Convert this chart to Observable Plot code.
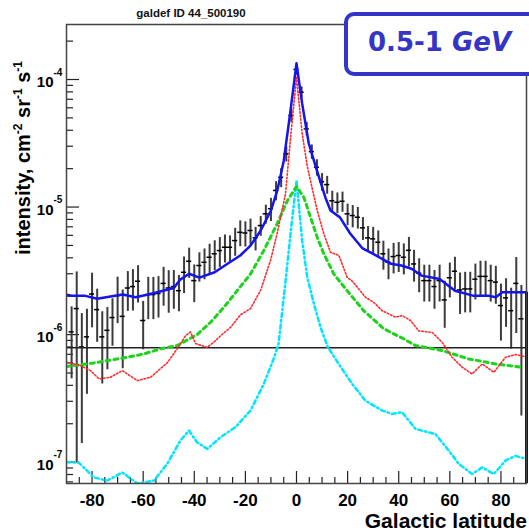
<!DOCTYPE html>
<html><head><meta charset="utf-8">
<script src="https://cdn.jsdelivr.net/npm/d3@7"></script>
<script src="https://cdn.jsdelivr.net/npm/@observablehq/plot@0.6"></script>
<style>
body{margin:0;background:#fff;}
#wrap{position:relative;width:529px;height:532px;overflow:hidden;background:#fff;}
#title{position:absolute;left:0;width:382px;top:7px;text-align:center;font:bold 11.5px "Liberation Sans",Arial,sans-serif;color:#111;}
#box{position:absolute;left:344px;top:12px;width:200px;height:64px;box-sizing:border-box;border:4.5px solid #3434c6;border-radius:10px;background:#fff;}
#boxtext{position:absolute;left:368px;top:29px;font:bold 26px "DejaVu Sans",sans-serif;color:#3434c6;line-height:26px;white-space:nowrap;}
</style></head>
<body><div id="wrap"><div id="title">galdef ID 44_500190</div></div>
<script>
// ---- data ----
const obsLat = [-88,-86,-84,-82,-80,-78,-76,-74,-72,-70,-68,-66,-64,-62,-60,-58,-56,-54,-52,-50,-48,-46,-44,-42,-40,-38,-36,-34,-32,-30,-28,-26,-24,-22,-20,-18,-16,-14,-12,-10,-8,-6,-4,-2,0,2,4,6,8,10,12,14,16,18,20,22,24,26,28,30,32,34,36,38,40,42,44,46,48,50,52,54,56,58,60,62,64,66,68,70,72,74,76,78,80,82,84,86,88];
const obsVal = [1.05e-6,1.6e-6,8.0e-7,9.6e-7,2.08e-6,1.57e-6,9.6e-7,1.08e-6,1.36e-6,2.02e-6,1.39e-6,2.32e-6,2.38e-6,2.62e-6,1.29e-6,2.06e-6,2.06e-6,2.1e-6,2.52e-6,2.32e-6,2.38e-6,2.21e-6,3.08e-6,3.76e-6,2.65e-6,3.48e-6,3.69e-6,4.04e-6,4.3e-6,4.56e-6,4.84e-6,4.84e-6,5.46e-6,6.34e-6,6.26e-6,6.55e-6,5.73e-6,7.16e-6,8.85e-6,9.7e-6,1.35e-5,1.71e-5,2.61e-5,5.22e-5,1.2e-4,7.95e-5,4.1e-5,2.72e-5,2.05e-5,1.58e-5,1.5e-5,1.12e-5,1.09e-5,1.11e-5,8.85e-6,8.58e-6,8.32e-6,6.87e-6,5.73e-6,5.63e-6,5.3e-6,4.3e-6,3.69e-6,4.09e-6,4.17e-6,4.04e-6,4.58e-6,3.58e-6,3.03e-6,2.65e-6,2.65e-6,2.38e-6,2.65e-6,1.87e-6,2.79e-6,3.14e-6,2.24e-6,2.28e-6,2.28e-6,2.72e-6,2.86e-6,2.86e-6,2.65e-6,2.58e-6,1.69e-6,1.94e-6,1.54e-6,2.52e-6,1.33e-6];
const obsErr = [6e-7,1.5e-6,6.6e-7,6.2e-7,9.5e-7,7e-7,5.5e-7,5.5e-7,5.5e-7,8e-7,8.5e-7,8e-7,8.5e-7,8.5e-7,5.3e-7,7.5e-7,7.5e-7,7.5e-7,8.5e-7,8.5e-7,8e-7,7e-7,9.8e-7,1.0e-6,8.7e-7,9e-7,1.0e-6,1.07e-6,1.14e-6,1.2e-6,1.2e-6,1.1e-6,1.35e-6,1.45e-6,1.4e-6,1.5e-6,1.2e-6,1.26e-6,1.5e-6,2.0e-6,2.3e-6,2.9e-6,3.5e-6,6e-6,1.2e-5,8e-6,5e-6,3.5e-6,3e-6,2.5e-6,2.4e-6,2.1e-6,2e-6,2e-6,1.7e-6,1.7e-6,1.6e-6,1.4e-6,1.3e-6,1.3e-6,1.2e-6,1.1e-6,1.0e-6,1.1e-6,1.1e-6,1.1e-6,1.2e-6,1.0e-6,9e-7,8.5e-7,8.5e-7,8e-7,8.5e-7,7.5e-7,8.5e-7,9e-7,8e-7,8e-7,8e-7,8.5e-7,9e-7,9e-7,8.5e-7,8.5e-7,8e-7,8e-7,7.7e-7,1.5e-6,1.1e-6];

const totalLat = [-90,-88,-83,-78,-71,-68,-63,-58,-53,-48,-45.5,-42,-38,-32,-27,-22,-18,-14,-10,-7.5,-5,-2.5,0,2.2,4.8,8,11.3,13.3,17,21,25.7,30,37,41,45,49,56,62,69,75,78,80.5,90];
const totalVal = [2.05e-6,2.02e-6,2.02e-6,1.91e-6,2.02e-6,2.06e-6,1.96e-6,2.06e-6,2.19e-6,2.32e-6,2.7e-6,3.0e-6,2.8e-6,3.08e-6,3.59e-6,4.17e-6,4.99e-6,6.55e-6,9.4e-6,1.35e-5,2.3e-5,5.4e-5,1.34e-4,6.5e-5,3.15e-5,1.93e-5,1.19e-5,9.4e-6,8.3e-6,6.2e-6,4.77e-6,4.29e-6,3.59e-6,3.48e-6,3.28e-6,2.9e-6,2.73e-6,2.21e-6,2.02e-6,2.02e-6,1.96e-6,2.15e-6,2.15e-6];

const pionLat = [-90,-84.5,-80.6,-77.3,-72.8,-68.2,-62.3,-57.1,-50.6,-46.7,-43.4,-41.5,-39.5,-35,-32.4,-29.7,-25.8,-21.9,-18,-14.1,-10.2,-7.6,-4.3,-2.3,0,2.2,4.2,5.5,8.1,10.7,13.3,16.6,19.8,22,25,27,30.2,33.5,38.7,41.3,44.6,47.8,53.1,57,60.9,64.8,68.7,72.7,77.2,81.8,85.7,90];
const pionVal = [6.07e-7,5.71e-7,5.22e-7,4.5e-7,4.63e-7,5.22e-7,4.36e-7,4.63e-7,6.0e-7,7.72e-7,9.8e-7,1.05e-6,8.5e-7,7.95e-7,8.7e-7,9.8e-7,1.14e-6,1.43e-6,1.6e-6,2.21e-6,3.8e-6,6.17e-6,1.27e-5,3.53e-5,1.04e-4,3.8e-5,2.1e-5,1.6e-5,9.4e-6,6.17e-6,4.42e-6,4.17e-6,2.82e-6,2.6e-6,2.2e-6,1.96e-6,1.79e-6,1.54e-6,1.37e-6,1.41e-6,1.29e-6,1.07e-6,1.04e-6,8.7e-7,6.64e-7,5.55e-7,4.92e-7,5.89e-7,5.06e-7,6.64e-7,6.97e-7,6.7e-7];

const icLat = [-90,-79.3,-66.2,-59.7,-53.2,-46.7,-38.9,-33.6,-28.4,-23.2,-18,-12.8,-7.6,-3.6,0,2.9,5.5,8.1,10.7,14.6,19.8,26.3,34.2,42,46.6,57,67.4,77.9,88.3];
const icVal = [5.61e-7,6.0e-7,6.64e-7,7.06e-7,7.73e-7,8.2e-7,1.0e-6,1.25e-6,1.64e-6,2.21e-6,2.99e-6,4.56e-6,7.38e-6,1.12e-5,1.45e-5,1.19e-5,8.3e-6,5.8e-6,4.29e-6,2.99e-6,2.21e-6,1.54e-6,1.11e-6,9.25e-7,8.2e-7,7.5e-7,6.44e-7,5.89e-7,5.55e-7];

const bremLat = [-90,-85.2,-79.3,-74.1,-68.2,-62.3,-55.8,-50.6,-45.4,-42.1,-38.9,-34.9,-29.7,-23.9,-18,-12.8,-8.9,-7,-4.5,-2.4,0,2.2,4.2,6.8,9.4,12.3,16.5,21.8,27,33.5,37.4,41.3,46.6,54.4,59.6,63.5,68.7,72.7,77.2,81.8,85.7,90];
const bremVal = [1.0e-7,9.9e-8,7.6e-8,7.16e-8,8.3e-8,6.8e-8,7.16e-8,9.7e-8,1.48e-7,1.77e-7,1.43e-7,1.27e-7,1.57e-7,1.88e-7,2.54e-7,4.1e-7,6.5e-7,8.5e-7,2.4e-6,6e-6,1.61e-5,5.5e-6,2.82e-6,1.74e-6,1.14e-6,7.95e-7,5.89e-7,4.1e-7,3.03e-7,2.54e-7,2.39e-7,2.46e-7,1.82e-7,1.66e-7,1.23e-7,9.7e-8,8.07e-8,9.1e-8,8.07e-8,1.03e-7,1.12e-7,1.06e-7];

const isoVal = [7.9e-7];

const xDomain = [-90, 90];
const yDomain = [6.8e-8, 2.7e-4];
const xMajor = [-80,-60,-40,-20,0,20,40,60,80];
const xMinor = [-85,-75,-70,-65,-55,-50,-45,-35,-30,-25,-15,-10,-5,5,10,15,25,30,35,45,50,55,65,70,75,85];
const yMajor = [1e-7,1e-6,1e-5,1e-4];
const yExp = ["-7","-6","-5","-4"];

// ---- build ----
const obs = obsLat.map((lat,i)=>({lat, v: obsVal[i], lo: Math.max(obsVal[i]-obsErr[i], 1e-9), hi: obsVal[i]+obsErr[i]}));
const mk = (lats, vals) => lats.map((lat,i)=>({lat, v: vals[i]}));
const total = mk(totalLat, totalVal), pion = mk(pionLat, pionVal), ic = mk(icLat, icVal), brem = mk(bremLat, bremVal);
const yMinor = [];
for (const dec of [1e-8,1e-7,1e-6,1e-5,1e-4]) for (let m=2;m<=9;m++){const t=m*dec; if(t>=yDomain[0]&&t<=yDomain[1]) yMinor.push(t);}

const font = "'Liberation Sans', Arial, Helvetica, sans-serif";
const chart = Plot.plot({
  width: 529, height: 532,
  marginLeft: 66, marginRight: 3, marginTop: 24, marginBottom: 49,
  x: {domain: xDomain},
  y: {type: "log", domain: yDomain},
  style: {fontFamily: font, background: "white", color: "black"},
  marks: [
    Plot.axisX({ticks: xMajor, tickSize: 12, dy: -12, fill: "none", stroke: "#222", strokeWidth: 1.2}),
    Plot.axisX({ticks: xMinor, tickSize: 6, dy: -6, fill: "none", stroke: "#222", strokeWidth: 1.2}),
    Plot.axisX({ticks: xMajor, tickSize: 0, tickPadding: 10, tickFormat: d => String(d), fontSize: 17, fontWeight: "bold", label: null}),
    Plot.axisY({ticks: yMajor, tickSize: 13, dx: 13, fill: "none", stroke: "#222", strokeWidth: 1.2}),
    Plot.axisY({ticks: yMinor, tickSize: 7, dx: 7, fill: "none", stroke: "#222", strokeWidth: 1.2}),
    Plot.axisY({ticks: yMajor, tickSize: 0, tickPadding: 13, tickFormat: () => "10", fontSize: 15, fontWeight: "bold", label: null, dy: 3}),
    Plot.text(yMajor, {frameAnchor: "left", y: d => d, text: (d,i) => yExp[i], dx: -13, dy: -7, textAnchor: "start", fontSize: 10, fontWeight: "bold"}),
    Plot.ruleX(obs, {x: "lat", y1: "lo", y2: "hi", stroke: "#3c3c3c", strokeWidth: 2, clip: true}),
    Plot.ruleY(obs, {y: "v", x1: d => d.lat - 1, x2: d => d.lat + 1, stroke: "#000", strokeWidth: 1.5, clip: true}),
    Plot.ruleY(isoVal, {y: d => d, stroke: "#222", strokeWidth: 1.5}),
    Plot.line(brem, {x: "lat", y: "v", stroke: "#00e5ff", strokeWidth: 2.5, strokeDasharray: "4,3,1.5,3", clip: true}),
    Plot.line(ic, {x: "lat", y: "v", stroke: "#1ed21e", strokeWidth: 3, strokeDasharray: "4,4", clip: true}),
    Plot.line(pion, {x: "lat", y: "v", stroke: "#ff2a2a", strokeWidth: 1.6, strokeDasharray: "1.5,2", clip: true}),
    Plot.line(total, {x: "lat", y: "v", stroke: "#1414ee", strokeWidth: 2.5, clip: true}),
    Plot.ruleX([totalLat[totalLat.length-1]], {x: d => d, y1: yDomain[0], y2: totalVal[totalVal.length-1], stroke: "#111", strokeWidth: 3}),
    Plot.frame({stroke: "#444", strokeWidth: 1.5})
  ]
});
document.getElementById("wrap").prepend(chart);
const svg = d3.select(chart);
const yl = svg.append("text").attr("transform", "translate(30,158) rotate(-90)").attr("text-anchor", "middle")
  .style("font-family", font).style("font-weight", "bold").style("font-size", "20px").attr("fill", "#000");
yl.append("tspan").text("intensity, cm");
yl.append("tspan").attr("dy", -8).style("font-size", "12px").text("-2");
yl.append("tspan").attr("dy", 8).text(" sr");
yl.append("tspan").attr("dy", -8).style("font-size", "12px").text("-1");
yl.append("tspan").attr("dy", 8).text(" s");
yl.append("tspan").attr("dy", -8).style("font-size", "12px").text("-1");
svg.append("text").attr("x", 527).attr("y", 528).attr("text-anchor", "end")
  .style("font-family", font).style("font-weight", "bold").style("font-size", "21px").attr("fill", "#000").text("Galactic latitude");

const box = document.createElement("div"); box.id = "box"; document.getElementById("wrap").appendChild(box);
const bt = document.createElement("div"); bt.id = "boxtext"; bt.innerHTML = '0.5-1 <i>GeV</i>'; document.getElementById("wrap").appendChild(bt);
chart.style.position = "absolute"; chart.style.left = "0"; chart.style.top = "0";
document.getElementById("title").style.zIndex = 2;
</script>
</body></html>
